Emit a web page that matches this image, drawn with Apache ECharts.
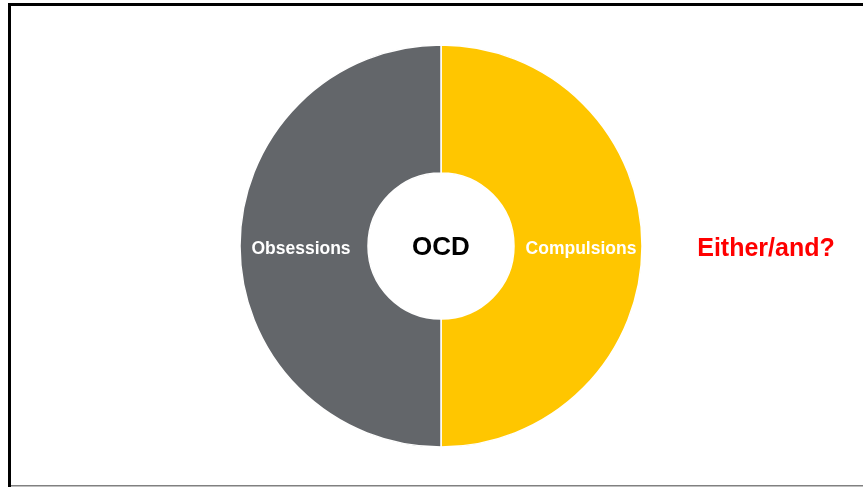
<!DOCTYPE html>
<html>
<head>
<meta charset="utf-8">
<script src="https://cdn.jsdelivr.net/npm/echarts@6/dist/echarts.min.js"></script>
<style>
  html, body { margin: 0; padding: 0; background: #fff; }
  #chart { width: 863px; height: 487px; }
</style>
</head>
<body>
<div id="chart"></div>
<script>
const categories = ["Compulsions", "Obsessions"];
const values = [50, 50];
const sliceColors = ["#FFC600", "#63666A"];
const centerLabel = "OCD";
const sideNote = "Either/and?";

const chart = echarts.init(document.getElementById("chart"));
chart.setOption({
  animation: false,
  graphic: [
    { type: "rect", shape: { x: 8, y: 3, width: 3, height: 484 }, style: { fill: "#000" } },
    { type: "rect", shape: { x: 8, y: 3, width: 855, height: 3 }, style: { fill: "#000" } },
    { type: "rect", shape: { x: 11, y: 485, width: 852, height: 1.5 }, style: { fill: "#808080" } },
    {
      type: "text",
      style: {
        text: centerLabel, align: "center", verticalAlign: "middle",
        font: "bold 26px Liberation Sans, Arial, sans-serif", fill: "#000"
      },
      position: [441, 248]
    },
    {
      type: "text",
      style: {
        text: sideNote, align: "center", verticalAlign: "middle",
        font: "bold 25px Liberation Sans, Arial, sans-serif", fill: "#FF0000"
      },
      position: [766, 249]
    }
  ],
  series: [
    {
      type: "pie",
      center: [441, 246],
      radius: [73, 201],
      startAngle: 90,
      clockwise: true,
      silent: true,
      itemStyle: { borderColor: "#fff", borderWidth: 1.5 },
      label: {
        show: true,
        position: "inside",
        formatter: "{t|{b}}",
        rich: {
          t: {
            color: "#fff",
            fontWeight: "bold",
            fontSize: 17.5,
            fontFamily: "Liberation Sans, Arial, sans-serif",
            padding: [6, 0, 0, 0]
          }
        }
      },
      labelLine: { show: false },
      data: categories.map((c, i) => ({
        name: c,
        value: values[i],
        itemStyle: { color: sliceColors[i] }
      }))
    }
  ]
});
</script>
</body>
</html>
